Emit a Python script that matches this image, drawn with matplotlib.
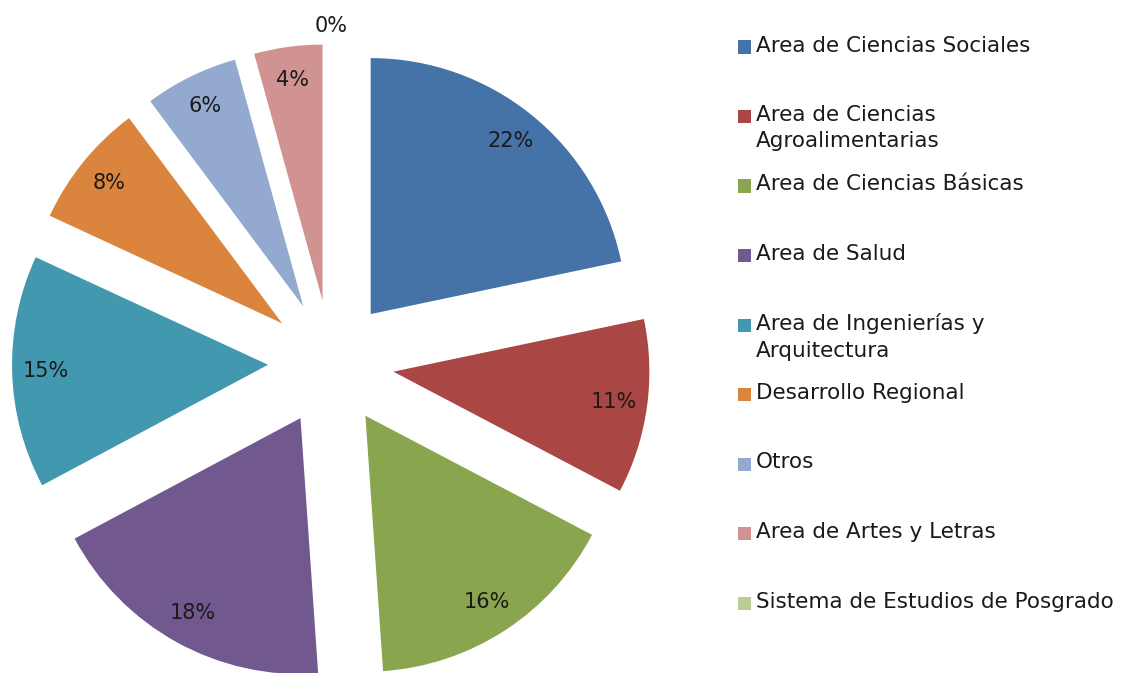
import matplotlib
matplotlib.use("Agg")
import matplotlib.pyplot as plt
from matplotlib.patches import Rectangle

labels = ["Area de Ciencias Sociales", "Area de Ciencias\nAgroalimentarias",
          "Area de Ciencias Básicas", "Area de Salud",
          "Area de Ingenierías y\nArquitectura", "Desarrollo Regional", "Otros",
          "Area de Artes y Letras", "Sistema de Estudios de Posgrado"]
values = [21.7, 11.0, 16.2, 18.3, 14.7, 7.9, 5.9, 4.3, 0]
colors = ["#4572A7", "#AA4643", "#89A54E", "#71588F", "#4198AF",
          "#DB843D", "#93A9CF", "#D19392", "#B9CD96"]

plt.rcParams['font.family'] = ['DejaVu Sans']
W, H = 1138, 673
fig = plt.figure(figsize=(W / 100, H / 100), dpi=100)
ax = fig.add_axes([0, 0, 1, 1])

scale = 256.0  # pixels per unit radius
cx, cy = 331, 363
wedges, texts, autotexts = ax.pie(values, colors=colors, startangle=90, counterclock=False,
                                  explode=[0.246] * len(values), autopct='%.0f%%',
                                  pctdistance=0.87, radius=1,
                                  wedgeprops=dict(linewidth=0),
                                  textprops=dict(fontsize=15, color='#1a1a1a'))
# the 0% label sits outside the slice
autotexts[-1].set_position((0, 0.246 + 1.07))

ax.set_xlim(-cx / scale, (W - cx) / scale)
ax.set_ylim(-(H - cy) / scale, cy / scale)
ax.set_aspect('auto')
ax.axis('off')

# legend drawn by hand, like the spreadsheet layout
for i, (lab, col) in enumerate(zip(labels, colors)):
    py = 47 + i * 69.5
    fig.patches.append(Rectangle((738 / W, 1 - (py + 6.5) / H), 13 / W, 13 / H,
                                 transform=fig.transFigure, facecolor=col, edgecolor='none'))
    fig.text(756 / W, 1 - (py - 11.5) / H, lab, fontsize=15.5, color='#1a1a1a', va='top',
             ha='left', linespacing=1.4, transform=fig.transFigure)

fig.savefig("out.png", dpi=100)
